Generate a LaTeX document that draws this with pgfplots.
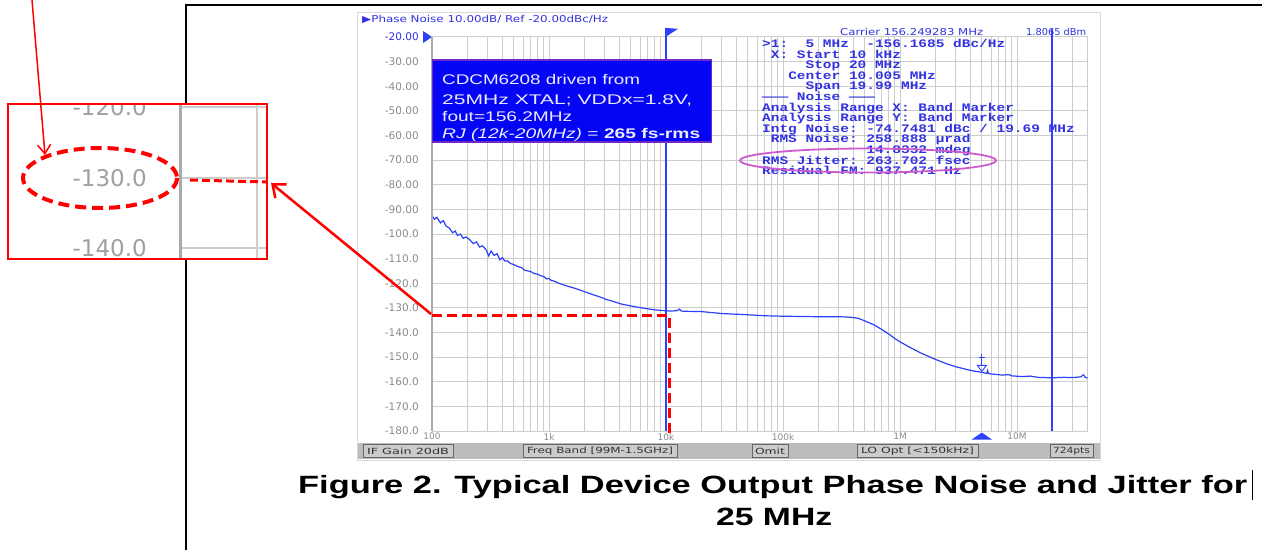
\documentclass[border=0pt]{standalone}
\usepackage{pgfplots}
\pgfplotsset{compat=1.18}
\usepackage{graphicx}
\usepackage{fontspec}
\usetikzlibrary{arrows.meta}
\setmainfont{Liberation Sans}
\newfontfamily\dv{DejaVu Sans}
\newfontfamily\mono{Liberation Mono}
\definecolor{anblue}{RGB}{45,65,250}
\definecolor{txtblue}{RGB}{50,50,225}
\definecolor{tickgray}{RGB}{140,140,140}
\definecolor{insetgray}{RGB}{160,160,160}
\definecolor{gridgray}{RGB}{205,205,205}
\definecolor{axgray}{RGB}{170,170,170}
\definecolor{boxblue}{RGB}{5,5,245}
\definecolor{boxedge}{RGB}{110,40,200}
\definecolor{boxtext}{RGB}{235,235,255}
\definecolor{magentaring}{RGB}{205,90,205}
\definecolor{barbg}{RGB}{188,188,188}
\definecolor{btnbg}{RGB}{203,203,203}
\definecolor{btntext}{RGB}{50,50,50}
\newcommand\W[2]{\resizebox{#1pt}{\height}{#2}}
\begin{document}
\begin{tikzpicture}
\useasboundingbox (0,0) rectangle (1262pt,550pt);
\fill[white] (0,0) rectangle (1262pt,550pt);

% ---------- flipped pixel scope: background parts ----------
\begin{scope}[shift={(0,550pt)}, x=1pt, y=-1pt]
  % document frame
  \draw[black, line width=2pt] (186,550) -- (186,5.5) -- (1262,5.5);
  % screenshot border
  \draw[gray!30, line width=0.8pt] (357,12) rectangle (1100,460);
  % header texts
  \node[anchor=west, inner sep=0pt, text=txtblue, font=\dv\fontsize{9.5}{10}\selectfont] at (362,19) {\W{246}{▶Phase Noise 10.00dB/ Ref -20.00dBc/Hz}};
  \node[anchor=west, inner sep=0pt, text=txtblue, font=\dv\fontsize{9.5}{10}\selectfont] at (840,32) {\W{143}{Carrier 156.249283 MHz}};
  \node[anchor=west, inner sep=0pt, text=txtblue, font=\dv\fontsize{9.5}{10}\selectfont] at (1026,32) {\W{60}{1.8065 dBm}};
  % bottom bar
  \fill[barbg] (358,443) rectangle (1100,459);
  \filldraw[fill=btnbg, draw=gray!80!black, line width=0.8pt] (363,444.5) rectangle (453,457.5);
  \filldraw[fill=btnbg, draw=gray!80!black, line width=0.8pt] (523,444.5) rectangle (677,457.5);
  \filldraw[fill=btnbg, draw=gray!80!black, line width=0.8pt] (752,444.5) rectangle (788,457.5);
  \filldraw[fill=btnbg, draw=gray!80!black, line width=0.8pt] (857,444.5) rectangle (978,457.5);
  \filldraw[fill=btnbg, draw=gray!80!black, line width=0.8pt] (1050,444.5) rectangle (1093,457.5);
  \begin{scope}[every node/.style={inner sep=0pt, text=btntext, font=\dv\fontsize{8.5}{9}\selectfont}]
    \node at (408,451) {\W{82}{IF Gain 20dB}};
    \node at (600,451) {\W{146}{Freq Band [99M-1.5GHz]}};
    \node at (770,451) {\W{30}{Omit}};
    \node at (917.5,451) {\W{113}{LO Opt [<150kHz]}};
    \node at (1071.5,451) {\W{37}{724pts}};
  \end{scope}
\end{scope}

% ---------- main phase-noise axis ----------
\begin{axis}[
  at={(432pt,119pt)}, anchor=south west,
  scale only axis, width=655.5pt, height=394pt,
  xmode=log, xmin=100, xmax=4e7,
  ymin=-180, ymax=-20,
  ytick={-180,-170,...,-20},
  yticklabels={-180.0,-170.0,-160.0,-150.0,-140.0,-130.0,-120.0,-110.0,-100.0,-90.00,-80.00,-70.00,-60.00,-50.00,-40.00,-30.00,\textcolor{txtblue}{-20.00}},
  xtick={100,1000,10000,100000,1000000,10000000},
  xticklabels={100,1k,10k,100k,1M,10M},
  minor xtick={200,300,400,500,600,700,800,900,2000,3000,4000,5000,6000,7000,8000,9000,20000,30000,40000,50000,60000,70000,80000,90000,200000,300000,400000,500000,600000,700000,800000,900000,2000000,3000000,4000000,5000000,6000000,7000000,8000000,9000000,20000000,30000000},
  xmajorgrids=true, xminorgrids=true, ymajorgrids=true,
  major grid style={draw=gridgray, line width=1pt},
  minor grid style={draw=gridgray, line width=1pt},
  major tick length=0pt, minor tick length=0pt,
  axis line style={draw=gridgray, line width=1pt},
  yticklabel style={font=\dv\fontsize{10.5}{12}\selectfont, text=tickgray, anchor=east, inner sep=0pt, xshift=-13pt},
  xticklabel style={font=\dv\fontsize{9}{10}\selectfont, text=tickgray, anchor=north, inner sep=0pt, yshift=-2pt},
  clip=false,
]
\addplot[anblue, line width=1.2pt] coordinates {
(100,-92.5) (105,-94.0) (110,-93.2) (118,-95.5) (125,-94.6) (132,-96.8) (140,-97.5) (150,-99.5) (158,-98.8) (165,-100.6) (175,-100.0) (185,-101.8) (195,-101.2) (210,-102.3) (225,-103.9) (240,-103.2) (255,-105.3) (270,-104.8) (290,-106.4) (305,-108.9) (320,-106.9) (340,-108.7) (360,-108.0) (380,-110.5) (400,-109.6) (420,-111.0) (440,-110.9) (470,-112.0) (500,-112.4) (540,-113.2) (580,-113.6) (620,-114.7) (660,-115.0) (700,-115.3) (750,-116.1) (800,-116.3) (850,-117.0) (900,-117.2) (950,-118.2) (1000,-118.1) (1050,-118.9) (1100,-119.1) (1200,-119.9) (1300,-120.5) (1400,-121.0) (1500,-121.4) (1700,-122.2) (2000,-123.4) (2300,-124.4) (2700,-125.5) (3100,-126.6) (3600,-127.5) (4200,-128.5) (5000,-129.2) (6000,-129.9) (7000,-130.4) (8000,-130.8) (9000,-131.0) (10000,-131.2) (11000,-131.3) (12500,-131.1) (13000,-130.5) (13500,-131.3) (15000,-131.4) (20000,-131.5) (30000,-132.3) (50000,-132.8) (70000,-133.2) (100000,-133.4) (150000,-133.5) (200000,-133.6) (300000,-133.6) (350000,-133.7) (400000,-133.9) (450000,-134.4) (500000,-135.3) (600000,-136.9) (700000,-138.8) (800000,-140.6) (900000,-142.4) (1000000,-143.8) (1200000,-145.9) (1500000,-148.3) (2000000,-150.9) (2500000,-152.7) (3000000,-153.9) (4000000,-155.4) (5000000,-156.2) (5500000,-156.6) (5600000,-155.4) (5700000,-156.7) (6500000,-157.0) (7500000,-157.3) (8500000,-157.1) (9000000,-157.6) (11000000,-157.9) (13000000,-157.7) (15000000,-158.2) (20000000,-158.4) (25000000,-158.2) (30000000,-158.3) (35000000,-158.0) (37000000,-157.2) (38000000,-158.1) (40000000,-158.5)
};
% markers
\draw[anblue, line width=1.2pt] (axis cs:10000,-16.3) -- (axis cs:10000,-180);
\fill[anblue] (axis cs:10000,-16.3) -- ++(12pt,-1pt) -- ++(-11pt,-7pt) -- cycle;
\draw[anblue, line width=2pt] (axis cs:20000000,-16.8) -- (axis cs:20000000,-180);
\fill[anblue] (axis cs:100,-20) -- ++(-9pt,6pt) -- ++(0pt,-12pt) -- cycle;
\fill[anblue] (axis cs:5000000,-180) ++(0pt,-1.5pt) -- ++(-10pt,-7pt) -- ++(20pt,0pt) -- cycle;
\draw[anblue, line width=0.9pt] (axis cs:5000000,-156.2) ++(0pt,1pt) -- ++(-4.5pt,6pt) -- ++(9pt,0pt) -- cycle;
\draw[anblue, line width=0.9pt] (axis cs:5000000,-156.2) ++(0pt,7pt) -- ++(0pt,11pt);
\draw[anblue, line width=0.9pt] (axis cs:5000000,-156.2) ++(-3pt,15pt) -- ++(6pt,0pt);
\end{axis}
% stronger left axis line
\draw[axgray, line width=1.6pt] (432pt,119pt) -- (432pt,513pt);

% ---------- flipped pixel scope: overlays ----------
\begin{scope}[shift={(0,550pt)}, x=1pt, y=-1pt]
  % blue annotation box
  \filldraw[fill=boxblue, draw=boxedge, line width=1.2pt] (432.5,60) rectangle (711.5,142);
  \begin{scope}[every node/.style={anchor=base west, inner sep=0pt, text=boxtext, font=\fontsize{14}{16}\selectfont}]
    \node at (442,84.3) {\W{198}{CDCM6208 driven from}};
    \node at (442,104.3) {\W{250}{25MHz XTAL; VDDx=1.8V,}};
    \node at (442,121.7) {\W{130}{fout=156.2MHz}};
    \node at (442,138.3) {\W{258}{\textit{RJ (12k-20MHz)} = \textbf{265 fs-rms}}};
  \end{scope}
  % monospace readout
  \begin{scope}[every node/.style={anchor=base west, inner sep=0pt, text=txtblue, font=\mono\bfseries\fontsize{11.5}{12}\selectfont}]
    \node at (762,47.5) {\scalebox{1.258}[1]{>1:~~5~MHz~~-156.1685~dBc/Hz}};
    \node at (762,58.1) {\scalebox{1.258}[1]{~X:~Start~10~kHz}};
    \node at (762,68.7) {\scalebox{1.258}[1]{~~~~~Stop~20~MHz}};
    \node at (762,79.3) {\scalebox{1.258}[1]{~~~Center~10.005~MHz}};
    \node at (762,89.9) {\scalebox{1.258}[1]{~~~~~Span~19.99~MHz}};
    \node at (762,100.5) {\scalebox{1.258}[1]{———~Noise~———}};
    \node at (762,111.1) {\scalebox{1.258}[1]{Analysis~Range~X:~Band~Marker}};
    \node at (762,121.7) {\scalebox{1.258}[1]{Analysis~Range~Y:~Band~Marker}};
    \node at (762,132.3) {\scalebox{1.258}[1]{Intg~Noise:~-74.7481~dBc~/~19.69~MHz}};
    \node at (762,142.9) {\scalebox{1.258}[1]{~RMS~Noise:~258.888~µrad}};
    \node at (762,153.5) {\scalebox{1.258}[1]{~~~~~~~~~~~~14.8332~mdeg}};
    \node at (762,164.1) {\scalebox{1.258}[1]{RMS~Jitter:~263.702~fsec}};
    \node at (762,174.7) {\scalebox{1.258}[1]{Residual~FM:~937.471~Hz}};
  \end{scope}
  \draw[magentaring, line width=1.8pt] (868,160.5) ellipse [x radius=128, y radius=12];
  % red dashed guide
  \draw[red, line width=3pt, dash pattern=on 10pt off 5pt] (432,315) -- (669,315) -- (669,438);
  % inset background
  \fill[white] (8,104) rectangle (267,259);
\end{scope}

% ---------- inset (magnified axis) ----------
\begin{scope}
\clip (8pt,291pt) rectangle (267pt,446pt);
\begin{axis}[
  at={(180pt,291pt)}, anchor=south west,
  scale only axis, width=120pt, height=155.1pt,
  xmin=0, xmax=120, ymin=-141.5, ymax=-119.5,
  xtick=\empty,
  ytick={-140,-130,-120},
  yticklabels={-140.0,-130.0,-120.0},
  ymajorgrids=true,
  major grid style={draw=gridgray, line width=2pt},
  major tick length=0pt,
  axis line style={draw=none},
  yticklabel style={font=\dv\fontsize{23}{26}\selectfont, text=insetgray, anchor=east, inner sep=0pt, xshift=-33pt},
  clip=false,
]
\draw[axgray, line width=3pt] (axis cs:0,-141.5) -- (axis cs:0,-119.5);
\draw[gridgray, line width=2pt] (axis cs:77,-141.5) -- (axis cs:77,-119.5);
\end{axis}
\end{scope}

% ---------- red annotations & caption ----------
\begin{scope}[shift={(0,550pt)}, x=1pt, y=-1pt]
  \draw[red, line width=1.5pt] (8,104) rectangle (267,259);
  \draw[red, line width=4pt, dash pattern=on 11pt off 6pt] (100,178) ellipse [x radius=77, y radius=30];
  \draw[red, line width=3pt, dash pattern=on 8pt off 4pt] (190,180) -- (267,182);
  \draw[red, line width=2.5pt, -{Straight Barb[length=11pt, width=18pt, line width=2.5pt]}] (431,314) -- (271,183);
  \draw[red, line width=1.5pt, -{Straight Barb[length=9pt, width=13pt, line width=1.5pt]}] (32,0) -- (45,155);
  % caption
  \node[anchor=base west, inner sep=0pt, font=\bfseries\fontsize{25}{30}\selectfont] at (298,493) {\W{949}{Figure 2. Typical Device Output Phase Noise and Jitter for}};
  \node[anchor=base west, inner sep=0pt, font=\bfseries\fontsize{25}{30}\selectfont] at (716,525) {\W{116}{25 MHz}};
  \draw[black, line width=1pt] (1252,470) -- (1252,500);
\end{scope}
\end{tikzpicture}
\end{document}
